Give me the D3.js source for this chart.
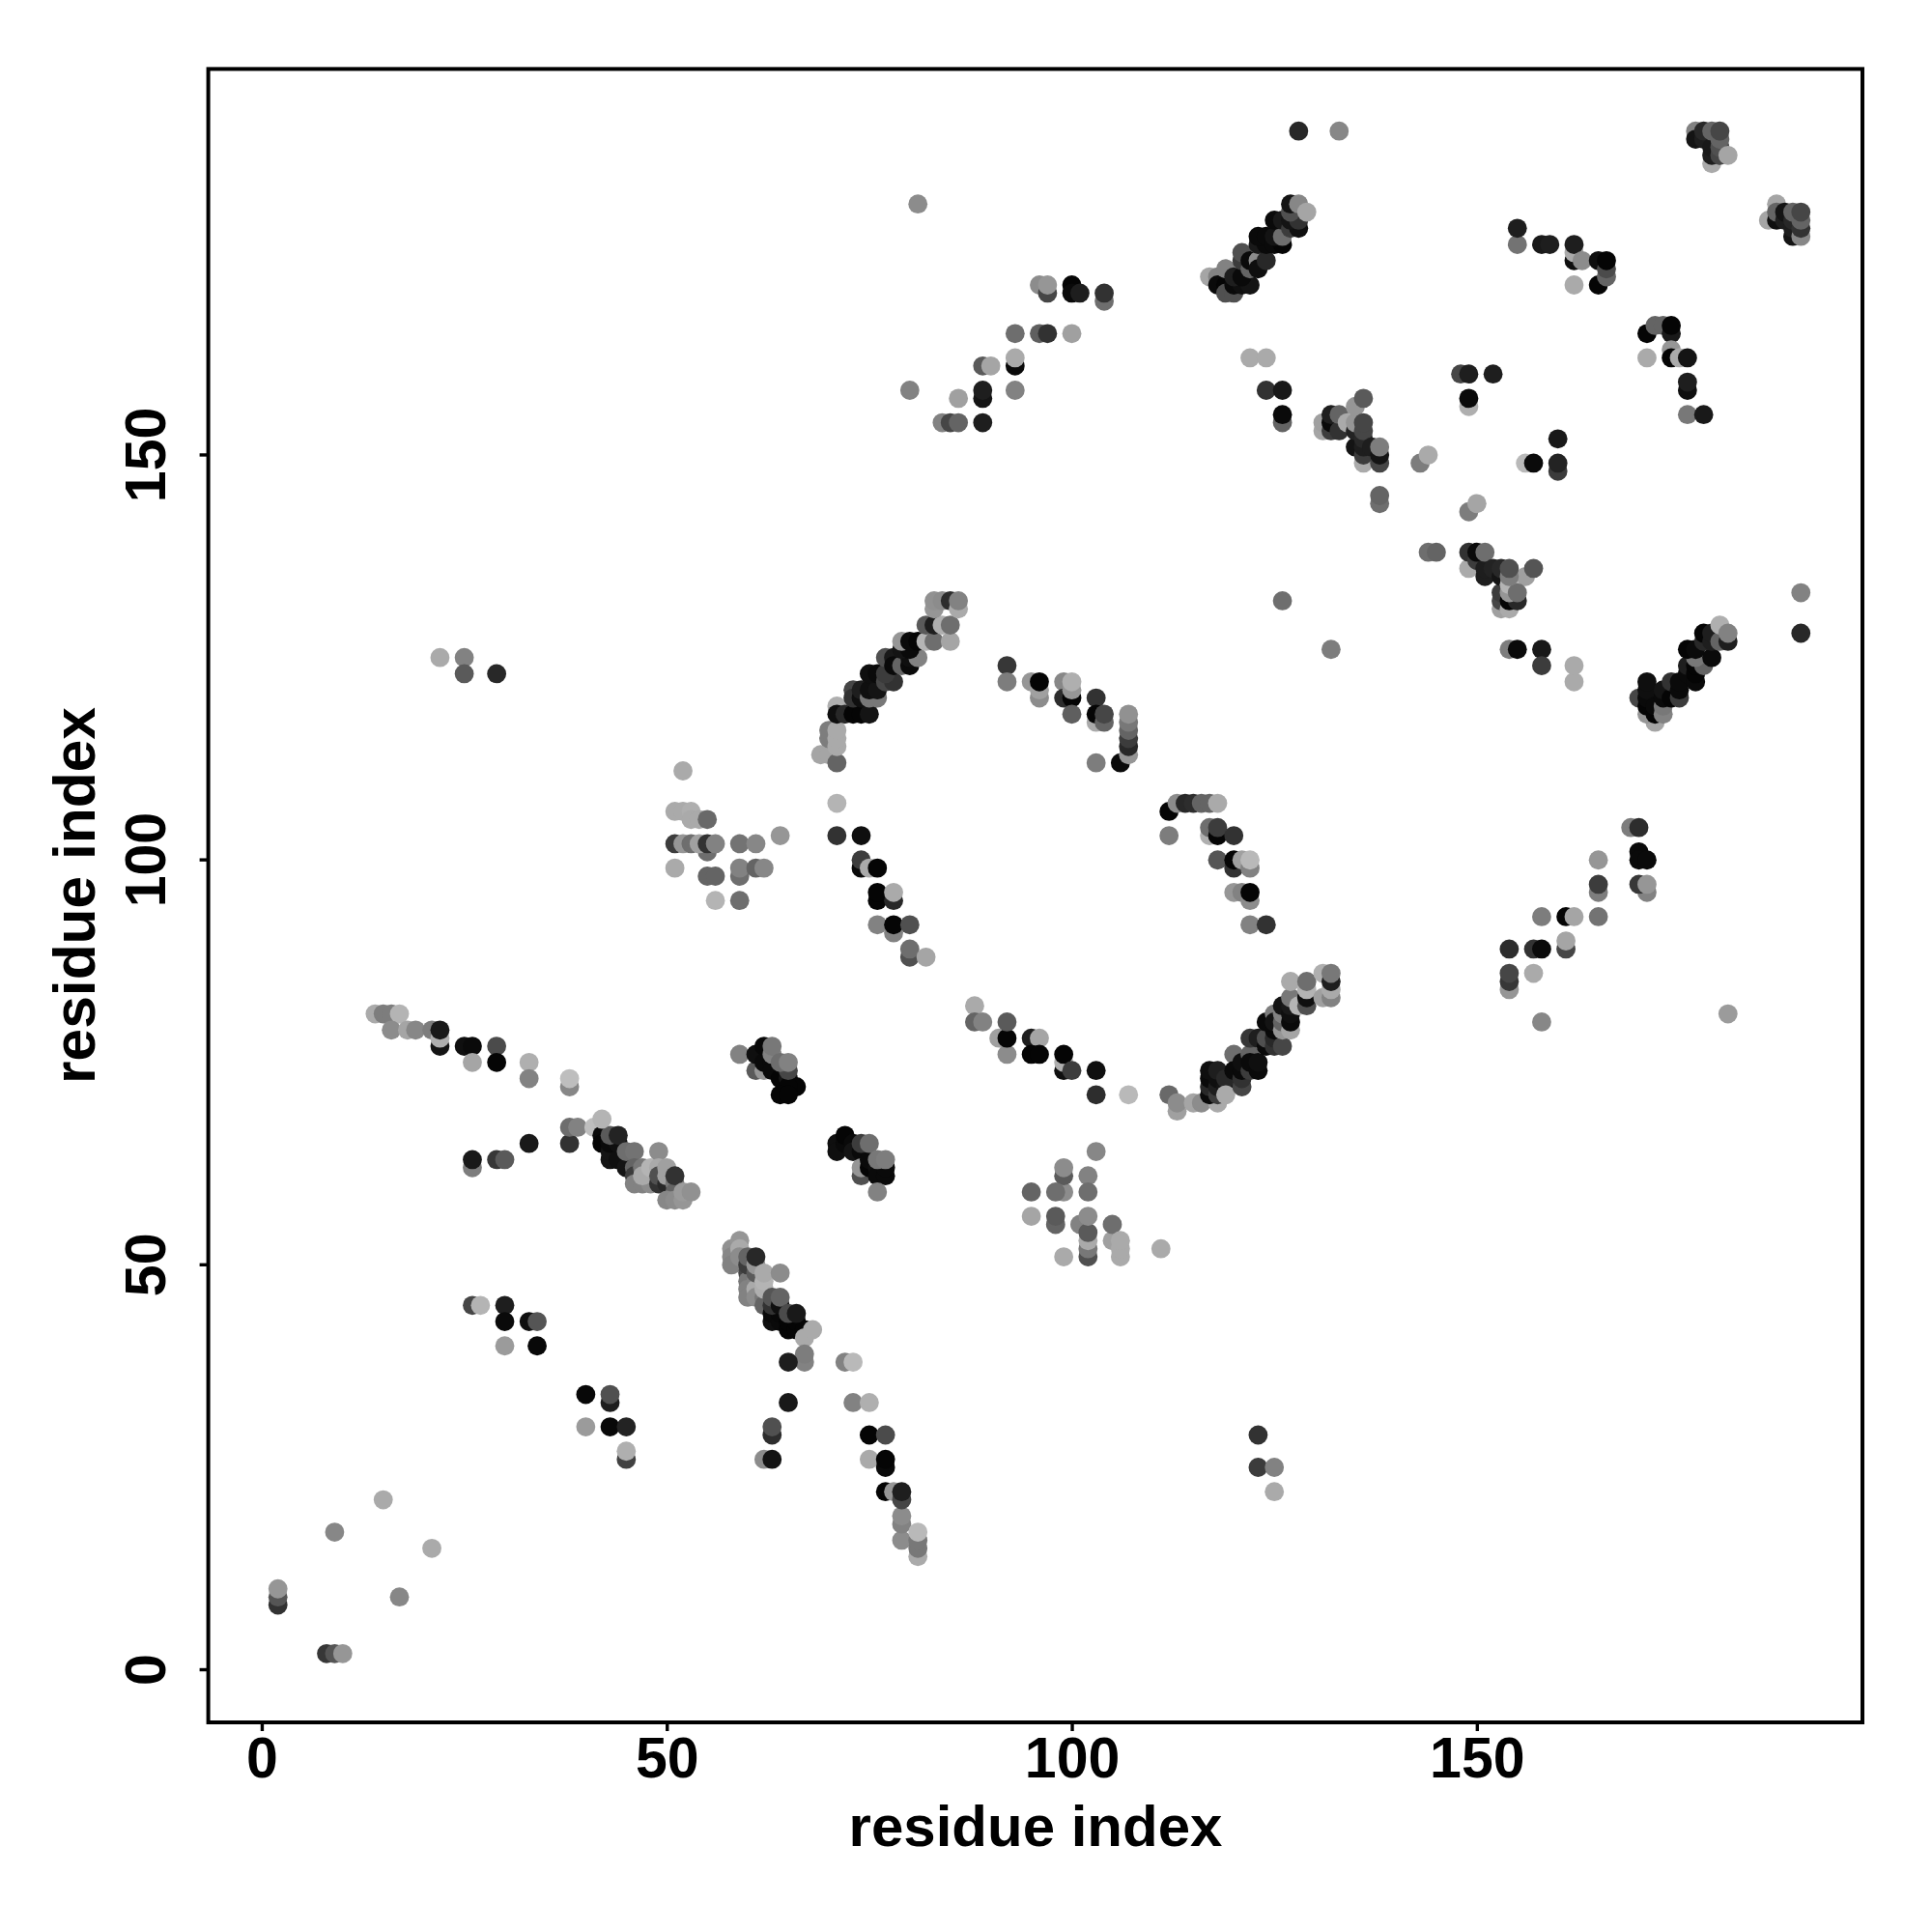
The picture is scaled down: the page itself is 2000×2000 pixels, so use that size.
<!DOCTYPE html>
<html><head><meta charset="utf-8">
<script src="https://cdn.jsdelivr.net/npm/d3@7"></script>
<style>html,body{margin:0;padding:0;background:#fff}</style></head>
<body><div id="chart"></div>
<script>
const xTicks=[0,50,100,150];
const yTicks=[0,50,100,150];
const xLabel="residue index";
const yLabel="residue index";
// each contact: [residue i, residue j, grey level]
const lowerLeft=[[2,8,50],[2,9,85],[2,10,150],[8,2,55],[9,2,85],[10,2,150],[9,17,135],[15,21,170],[17,9,135],[21,15,170],
[26,45,70],[27,45,180],[30,45,30],[30,43,10],[33,43,15],[34,43,85],[30,40,155],[34,40,8],
[40,34,8],[43,33,30],[43,34,80],[40,30,155],[43,30,8],[45,30,35],[45,26,65],[45,27,175]];
const strandA=[[14,81,170],[15,81,125],[16,81,125],[17,81,180],[16,79,140],[18,79,165],[19,79,135],[21,79,125],[22,77,20],[22,78,175],[22,79,25],
[25,77,15],[26,77,10],[29,77,75],[26,75,165],[29,75,5],[33,75,175],[33,73,130],[38,72,135],[38,73,190],
[26,62,125],[26,63,25],[29,63,55],[30,63,90],[33,65,25],[38,65,50],[38,67,110],[39,67,130],[41,67,190]];
const strandB=[[42,66,10],[42,65,5],[43,63,20],[43,64,20],[43,65,10],[44,63,15],[44,65,15],[45,62,20],[43,66,90],[44,66,35],[42,68,180],
[45,64,110],[46,64,115],[46,62,100],[46,61,60],[46,60,130],[47,60,130],[48,60,140],[47,62,120],[47,61,170],[48,62,180],[49,64,140],[49,62,170],
[49,60,50],[49,61,80],[50,60,40],[50,61,160],[50,62,160],[51,60,120],[51,59,100],[50,58,135],[51,58,140],[52,58,150],[51,61,50],[52,59,155],[53,59,145]];
const strandC=[[58,52,145],[58,51,135],[58,50,130],[59,53,150],[59,52,170],[59,51,140],[60,49,70],[60,48,120],[60,47,130],[60,46,130],[60,50,60],[60,51,100],
[61,48,130],[61,47,170],[61,46,140],[61,49,90],[61,50,150],[61,51,40],[62,46,120],[62,45,100],[62,47,175],[62,48,180],[62,49,170],[64,49,140],
[63,43,15],[63,44,10],[64,43,10],[64,44,8],[65,42,5],[65,43,5],[66,42,5],[66,43,5],[67,42,5],[63,45,50],[63,46,85],[64,45,15],[64,46,100],[65,44,75],[66,44,25],[67,41,170],[68,42,170],
[67,38,130],[67,39,125],[65,38,30],[65,33,25]];
const lowerMid=[[63,29,45],[63,30,80],[62,26,140],[63,26,20],[72,38,130],[73,38,185],[73,33,130],[75,33,175],[75,29,5],[77,29,75],[75,26,170],[77,25,10],[77,26,5],
[77,22,5],[78,22,150],[79,16,140],[79,18,130],[79,19,140],[79,21,70],[79,22,30],[81,14,170],[81,15,120],[81,16,120],[81,17,185],[123,29,50],[123,25,60],[125,25,130],[125,22,170]];
const patchD=[[59,76,130],[61,74,90],[62,74,150],[61,76,15],[62,75,10],[62,77,8],[63,75,10],[63,74,10],[64,74,10],[64,73,5],[65,73,20],[66,72,5],[65,72,5],[64,71,5],[65,71,5],
[63,76,130],[63,77,120],[65,74,70],[64,75,110],[65,75,130]];
const patchE=[[71,65,15],[71,64,15],[72,65,10],[72,66,5],[73,65,10],[73,64,20],[74,64,10],[74,61,80],[74,62,150],[75,62,5],[75,63,10],[76,62,15],[76,61,10],[77,61,10],[77,62,10],[74,65,60],[75,65,110],[76,63,120],[77,63,125],[76,59,130]];
const patchF=[[99,59,140],[99,61,90],[99,62,140],[103,64,135],[102,61,130],[95,59,100],[98,59,110],[102,59,110],[95,56,165],[98,55,100],[98,56,90],[99,51,170],[101,55,130],
[102,51,80],[102,52,120],[102,53,170],[102,54,90],[102,56,140],[105,53,160],[105,55,110],[106,51,170],[106,52,170],[106,53,170],[111,52,170]];
const arcLower=[[88,82,170],[88,80,100],[89,80,130],[91,78,160],[92,76,140],[92,78,5],[92,80,90],[95,78,30],[96,78,165],[95,76,5],[96,76,5],[99,74,15],[99,75,175],[99,76,5],[100,74,60],[103,74,15],[103,71,45],[107,71,185],
[112,71,105],[113,69,160],[113,70,140],[115,70,165],[116,70,140]];
const helixG=[[118,70,170],[117,71,10],[117,72,40],[117,73,10],[117,74,15],[118,71,60],[118,72,30],[118,73,15],[118,74,30],[119,72,20],[119,73,40],[119,71,170],
[120,76,110],[120,74,10],[121,72,70],[121,73,50],[121,74,10],[121,75,15],[122,76,100],[122,74,60],[122,75,10],[122,78,55],[123,78,30],[123,74,10],[123,75,15],
[124,77,10],[124,78,80],[125,77,50],[125,78,40],[125,79,10],[124,80,10],[125,81,125],[125,80,20],[126,77,70],[126,79,150],[126,80,100],[126,81,130],[126,82,20],
[127,79,165],[127,80,10],[127,81,15],[127,82,25],[127,83,120],[127,85,170],[128,82,180],[129,82,80],[129,83,15],[129,84,180],[129,85,110],[131,83,160],[131,86,175],[132,83,130],[132,84,170],[132,85,30],[132,86,120]];
const patchH=[[52,111,170],[51,106,170],[52,106,170],[53,106,175],[53,105,170],[54,105,170],[55,105,105],[55,101,110],[51,102,60],[52,102,150],[53,102,110],[54,102,160],[55,102,50],[56,102,130],[59,102,115],[61,102,135],[64,103,150],
[51,99,170],[55,98,100],[56,98,100],[59,98,110],[59,99,130],[61,99,100],[62,99,135],[56,95,180],[59,95,110]];
const arcLeft=[[71,107,180],[71,103,50],[74,103,15],[74,99,10],[74,100,60],[75,99,170],[76,99,5],[76,95,5],[76,96,5],[78,95,40],[78,96,170],[76,92,130],[78,91,130],[78,92,5],[80,92,80],[80,88,80],[80,89,110],[82,88,165]];
const helixI=[[69,113,165],[70,113,165],[70,115,125],[70,116,125],[71,112,100],[71,114,170],[71,115,170],[71,116,170],[71,119,175],[71,118,15],[72,118,40],[73,118,5],[74,118,5],[75,118,20],
[73,121,70],[73,120,50],[74,120,15],[74,121,30],[75,120,120],[76,120,120],[75,121,15],[76,121,20],[75,123,15],[76,123,10],[77,122,70],[78,122,50],[77,123,60],
[77,125,80],[78,125,25],[78,124,10],[79,124,100],[80,124,10],[80,125,15],[81,125,130],[79,126,20],[80,126,10],[79,127,150],[80,127,10],[81,127,5],[82,127,180],[83,127,110],[85,127,165],
[82,129,90],[83,129,30],[84,129,175],[85,129,110],[83,131,150],[83,132,145],[84,132,140],[85,132,45],[86,131,170],[86,132,130]];
const arcUpper=[[92,124,55],[92,122,125],[95,122,150],[96,120,140],[96,121,160],[96,122,5],[99,122,135],[99,120,45],[100,120,5],[100,121,150],[100,122,175],[100,118,95],[103,120,50],[103,117,170],[103,118,5],[104,117,100],[104,118,70],[103,112,125],[106,112,10],
[107,113,150],[107,114,40],[107,115,60],[107,116,100],[107,117,120],[107,118,145]];
const arcRight=[[112,103,125],[112,106,5],[113,107,140],[114,107,40],[115,107,45],[116,107,100],[117,107,100],[118,107,170],[117,103,175],[117,104,110],[118,103,5],[118,104,60],[120,103,50],
[118,100,85],[120,99,50],[120,100,5],[121,100,160],[122,99,130],[122,100,185],[120,96,150],[121,96,130],[122,95,140],[122,96,5],[122,92,130],[124,92,50]];
const upperLeft=[[22,125,170],[25,125,130],[25,123,90],[29,123,40],[81,181,140],[80,158,130],[84,154,130],[85,154,70],[86,154,100],[86,157,160],[89,154,30],[89,157,20],[89,158,30],[89,161,90],[90,161,165],
[93,158,130],[93,161,10],[93,162,170],[93,165,110],[96,165,95],[97,165,50],[100,165,160],[96,171,140],[97,170,70],[97,171,150],[100,171,5],[100,170,10],[101,170,30],[104,169,110],[104,170,50]];
const helixJ=[[117,172,165],[118,172,130],[118,171,10],[119,171,5],[119,170,80],[119,173,130],[120,170,80],[120,171,10],[121,171,15],[122,171,20],[120,172,30],[121,172,10],
[121,174,60],[121,175,80],[122,173,100],[122,174,10],[123,174,140],[123,173,15],[124,174,40],[123,176,25],[124,176,10],[123,177,10],[124,177,10],[125,176,10],[126,176,5],[125,177,20],[126,177,110],
[125,179,10],[126,179,25],[127,178,60],[128,178,15],[127,179,20],[128,179,50],[127,180,80],[127,181,20],[128,181,135],[129,180,165]];
const midRight=[[128,190,40],[133,190,135],[122,162,170],[124,162,170],[124,158,50],[126,158,25],[126,154,100],[126,155,10],
[126,132,110],[132,126,125],[143,149,125],[144,150,170],[138,144,110],[138,145,100],[149,143,125],[150,144,165],[144,138,110],[145,138,100]];
const patchK=[[131,153,165],[131,154,160],[132,153,60],[132,154,10],[132,155,30],[133,153,50],[133,155,100],[134,154,170],[135,151,20],[135,153,35],[135,154,150],[135,156,150],[136,157,90],
[136,149,170],[136,150,60],[136,151,30],[136,152,40],[136,153,70],[136,154,70],[137,151,30],[138,149,70],[138,150,20],[138,151,125]];
const patchL=[[148,160,70],[149,160,30],[152,160,30],[149,156,175],[149,157,10],[156,149,185],[157,149,10],[160,152,25],[160,148,60],[160,149,35],
[155,176,115],[155,178,30],[158,176,25],[159,176,30],[162,171,170],[162,174,15],[162,175,170],[162,176,30],[163,174,140],[165,171,5],[165,174,15],[166,172,100],[166,173,75],[166,174,5]];
const patchM=[[171,162,170],[171,165,5],[172,166,100],[173,166,100],[174,165,25],[174,166,5],[174,163,150],[174,162,5],[175,162,170],[176,162,20],[176,158,15],[176,159,30],[176,155,120],[178,155,25],
[177,190,130],[177,189,20],[178,189,30],[178,190,40],[179,186,170],[179,187,30],[179,188,25],[179,190,100],[180,187,70],[180,188,80],[180,189,100],[180,190,70],[181,187,165],
[186,179,165],[187,181,165],[187,179,15],[187,180,100],[188,179,30],[188,180,20],[189,177,20],[189,178,30],[189,179,40],[189,180,100],[190,177,135],[190,178,50],[190,179,100],[190,180,70]];
const patchN=[[149,136,170],[149,138,50],[150,137,60],[150,138,10],[151,135,30],[151,136,30],[151,138,110],[152,136,35],[153,131,160],[153,132,70],[153,133,60],[153,135,20],[153,136,40],
[156,135,160],[157,136,85],[154,131,170],[154,132,5],[155,132,40],[154,133,150],[154,134,180],[155,133,110],[154,135,125],[154,136,80],
[154,126,125],[155,126,10],[158,126,25],[158,124,60],[162,122,170],[162,124,170]];
const helixO=[[172,117,165],[170,120,70],[171,118,150],[171,119,5],[171,120,10],[171,121,15],[171,122,15],[172,118,5],[172,119,10],[173,118,130],[173,119,120],[173,120,10],[173,121,20],[174,120,5],[174,122,50],[175,120,60],[175,121,10],[175,122,10],
[176,123,10],[176,124,30],[177,122,10],[177,123,5],[177,124,5],[178,124,100],[177,125,120],[179,125,10],[176,126,5],[177,126,10],[178,127,40],[178,128,5],[179,127,30],[179,128,30],[180,127,100],[181,127,30],[180,129,175],[181,128,130],[190,133,130],[190,128,40]];
const patchP=[[169,104,125],[170,104,45],[170,101,10],[170,100,10],[171,100,10],[171,96,130],[170,97,55],[171,97,150],[165,100,150],[165,96,125],[165,97,60],[165,93,115],
[158,93,125],[161,93,5],[162,93,165],[154,89,45],[157,89,50],[158,89,10],[161,89,70],[161,90,165],[154,84,150],[154,85,55],[154,86,70],[157,86,170],[158,80,135],[181,81,155]];

const contacts=[lowerLeft,strandA,strandB,strandC,lowerMid,patchD,patchE,patchF,arcLower,helixG,patchH,arcLeft,helixI,arcUpper,arcRight,upperLeft,helixJ,midRight,patchK,patchL,patchM,patchN,helixO,patchP].flat();

const font='"Liberation Sans",Arial,sans-serif';
const svg=d3.select("#chart").append("svg").attr("width",2000).attr("height",2000).style("display","block");
const x=d3.scaleLinear().domain([-6.6,197.6]).range([215.6,1928]);
const y=d3.scaleLinear().domain([-6.56,197.6]).range([1783,71.4]);

svg.append("g").selectAll("circle").data(contacts).join("circle")
  .attr("cx",d=>x(d[0])).attr("cy",d=>y(d[1])+0.6).attr("r",9.9)
  .attr("fill",d=>d3.rgb(d[2],d[2],d[2]));

svg.append("rect").attr("x",x.range()[0]).attr("y",y.range()[1])
  .attr("width",x.range()[1]-x.range()[0]).attr("height",y.range()[0]-y.range()[1])
  .attr("fill","none").attr("stroke","#000").attr("stroke-width",4);

const gx=svg.append("g").attr("transform",`translate(0,${y.range()[0]})`)
  .call(d3.axisBottom(x).tickValues(xTicks).tickSize(9).tickPadding(6.6).tickFormat(d3.format("d")));
const gy=svg.append("g").attr("transform",`translate(${x.range()[0]},0)`)
  .call(d3.axisLeft(y).tickValues(yTicks).tickSize(9).tickFormat(d3.format("d")));
[gx,gy].forEach(g=>{g.select(".domain").remove();g.selectAll(".tick line").attr("stroke","#000").attr("stroke-width",3.4);});
gx.selectAll("text").attr("font-family",font).attr("font-weight","bold").attr("font-size",59).attr("fill","#000");
gy.selectAll("text").attr("font-family",font).attr("font-weight","bold").attr("font-size",59).attr("fill","#000")
  .attr("text-anchor","middle").attr("dy",0)
  .attr("transform","translate(-44.6,0) rotate(-90)")
  .attr("x",0).attr("y",0);
svg.append("text").text(xLabel).attr("x",1072).attr("y",1911).attr("text-anchor","middle")
  .attr("font-family",font).attr("font-weight","bold").attr("font-size",60).attr("fill","#000");
svg.append("text").text(yLabel).attr("transform","translate(98,927) rotate(-90)").attr("text-anchor","middle")
  .attr("font-family",font).attr("font-weight","bold").attr("font-size",60.5).attr("fill","#000");
</script></body></html>
